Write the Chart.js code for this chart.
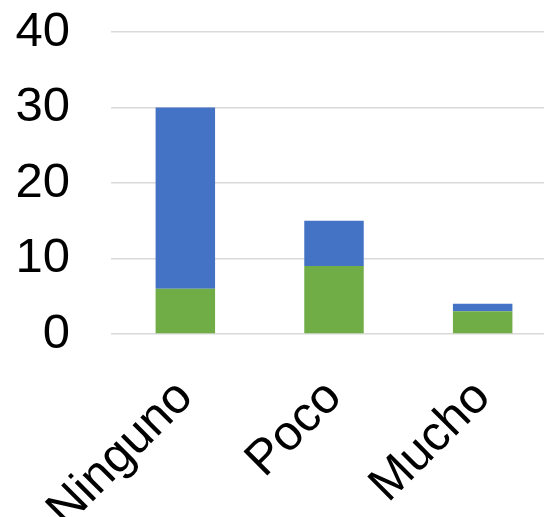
<!DOCTYPE html>
<html>
<head>
<meta charset="utf-8">
<script src="https://cdn.jsdelivr.net/npm/chart.js@4/dist/chart.umd.min.js"></script>
<style>
  html, body { margin: 0; padding: 0; background: #fff; overflow: hidden; }
  #wrap { width: 544px; height: 517px; overflow: hidden; }
</style>
</head>
<body>
<div id="wrap"><canvas id="c" width="557" height="517"></canvas></div>
<script>
// Categories and stacked series values
const categories = ['Ninguno', 'Poco', 'Mucho'];
const greenValues = [6, 9, 3];
const blueValues = [24, 6, 1];
const yTicks = [0, 10, 20, 30, 40];

const FONT = '"Liberation Sans", Arial, sans-serif';

new Chart(document.getElementById('c'), {
  type: 'bar',
  data: {
    labels: categories,
    datasets: [
      { label: 'Verde', data: greenValues, backgroundColor: '#70AD47', borderWidth: 0 },
      { label: 'Azul', data: blueValues, backgroundColor: '#4472C4', borderWidth: 0 }
    ]
  },
  options: {
    responsive: false,
    animation: false,
    layout: { padding: 0 },
    plugins: { legend: { display: false }, tooltip: { enabled: false } },
    datasets: { bar: { categoryPercentage: 1, barPercentage: 0.4 } },
    scales: {
      x: {
        stacked: true,
        grid: { display: false },
        border: { display: false },
        afterFit: (s) => { s.height = 183; },
        ticks: {
          minRotation: 45,
          maxRotation: 45,
          padding: 27,
          color: '#000',
          font: { family: FONT, size: 49 }
        }
      },
      y: {
        stacked: true,
        min: 0,
        max: 40,
        afterBuildTicks: (s) => { s.ticks = yTicks.map(v => ({ value: v })); },
        // fixed axis width; keep only half a label of room above the top tick
        afterFit: (s) => { s.width = 111; s.paddingTop = 32; s.paddingBottom = 30; },
        grid: { color: '#D9D9D9', lineWidth: 1.5, drawTicks: false },
        border: { display: false },
        ticks: {
          padding: 41,
          color: '#000',
          font: { family: FONT, size: 49 }
        }
      }
    }
  }
});
</script>
</body>
</html>
